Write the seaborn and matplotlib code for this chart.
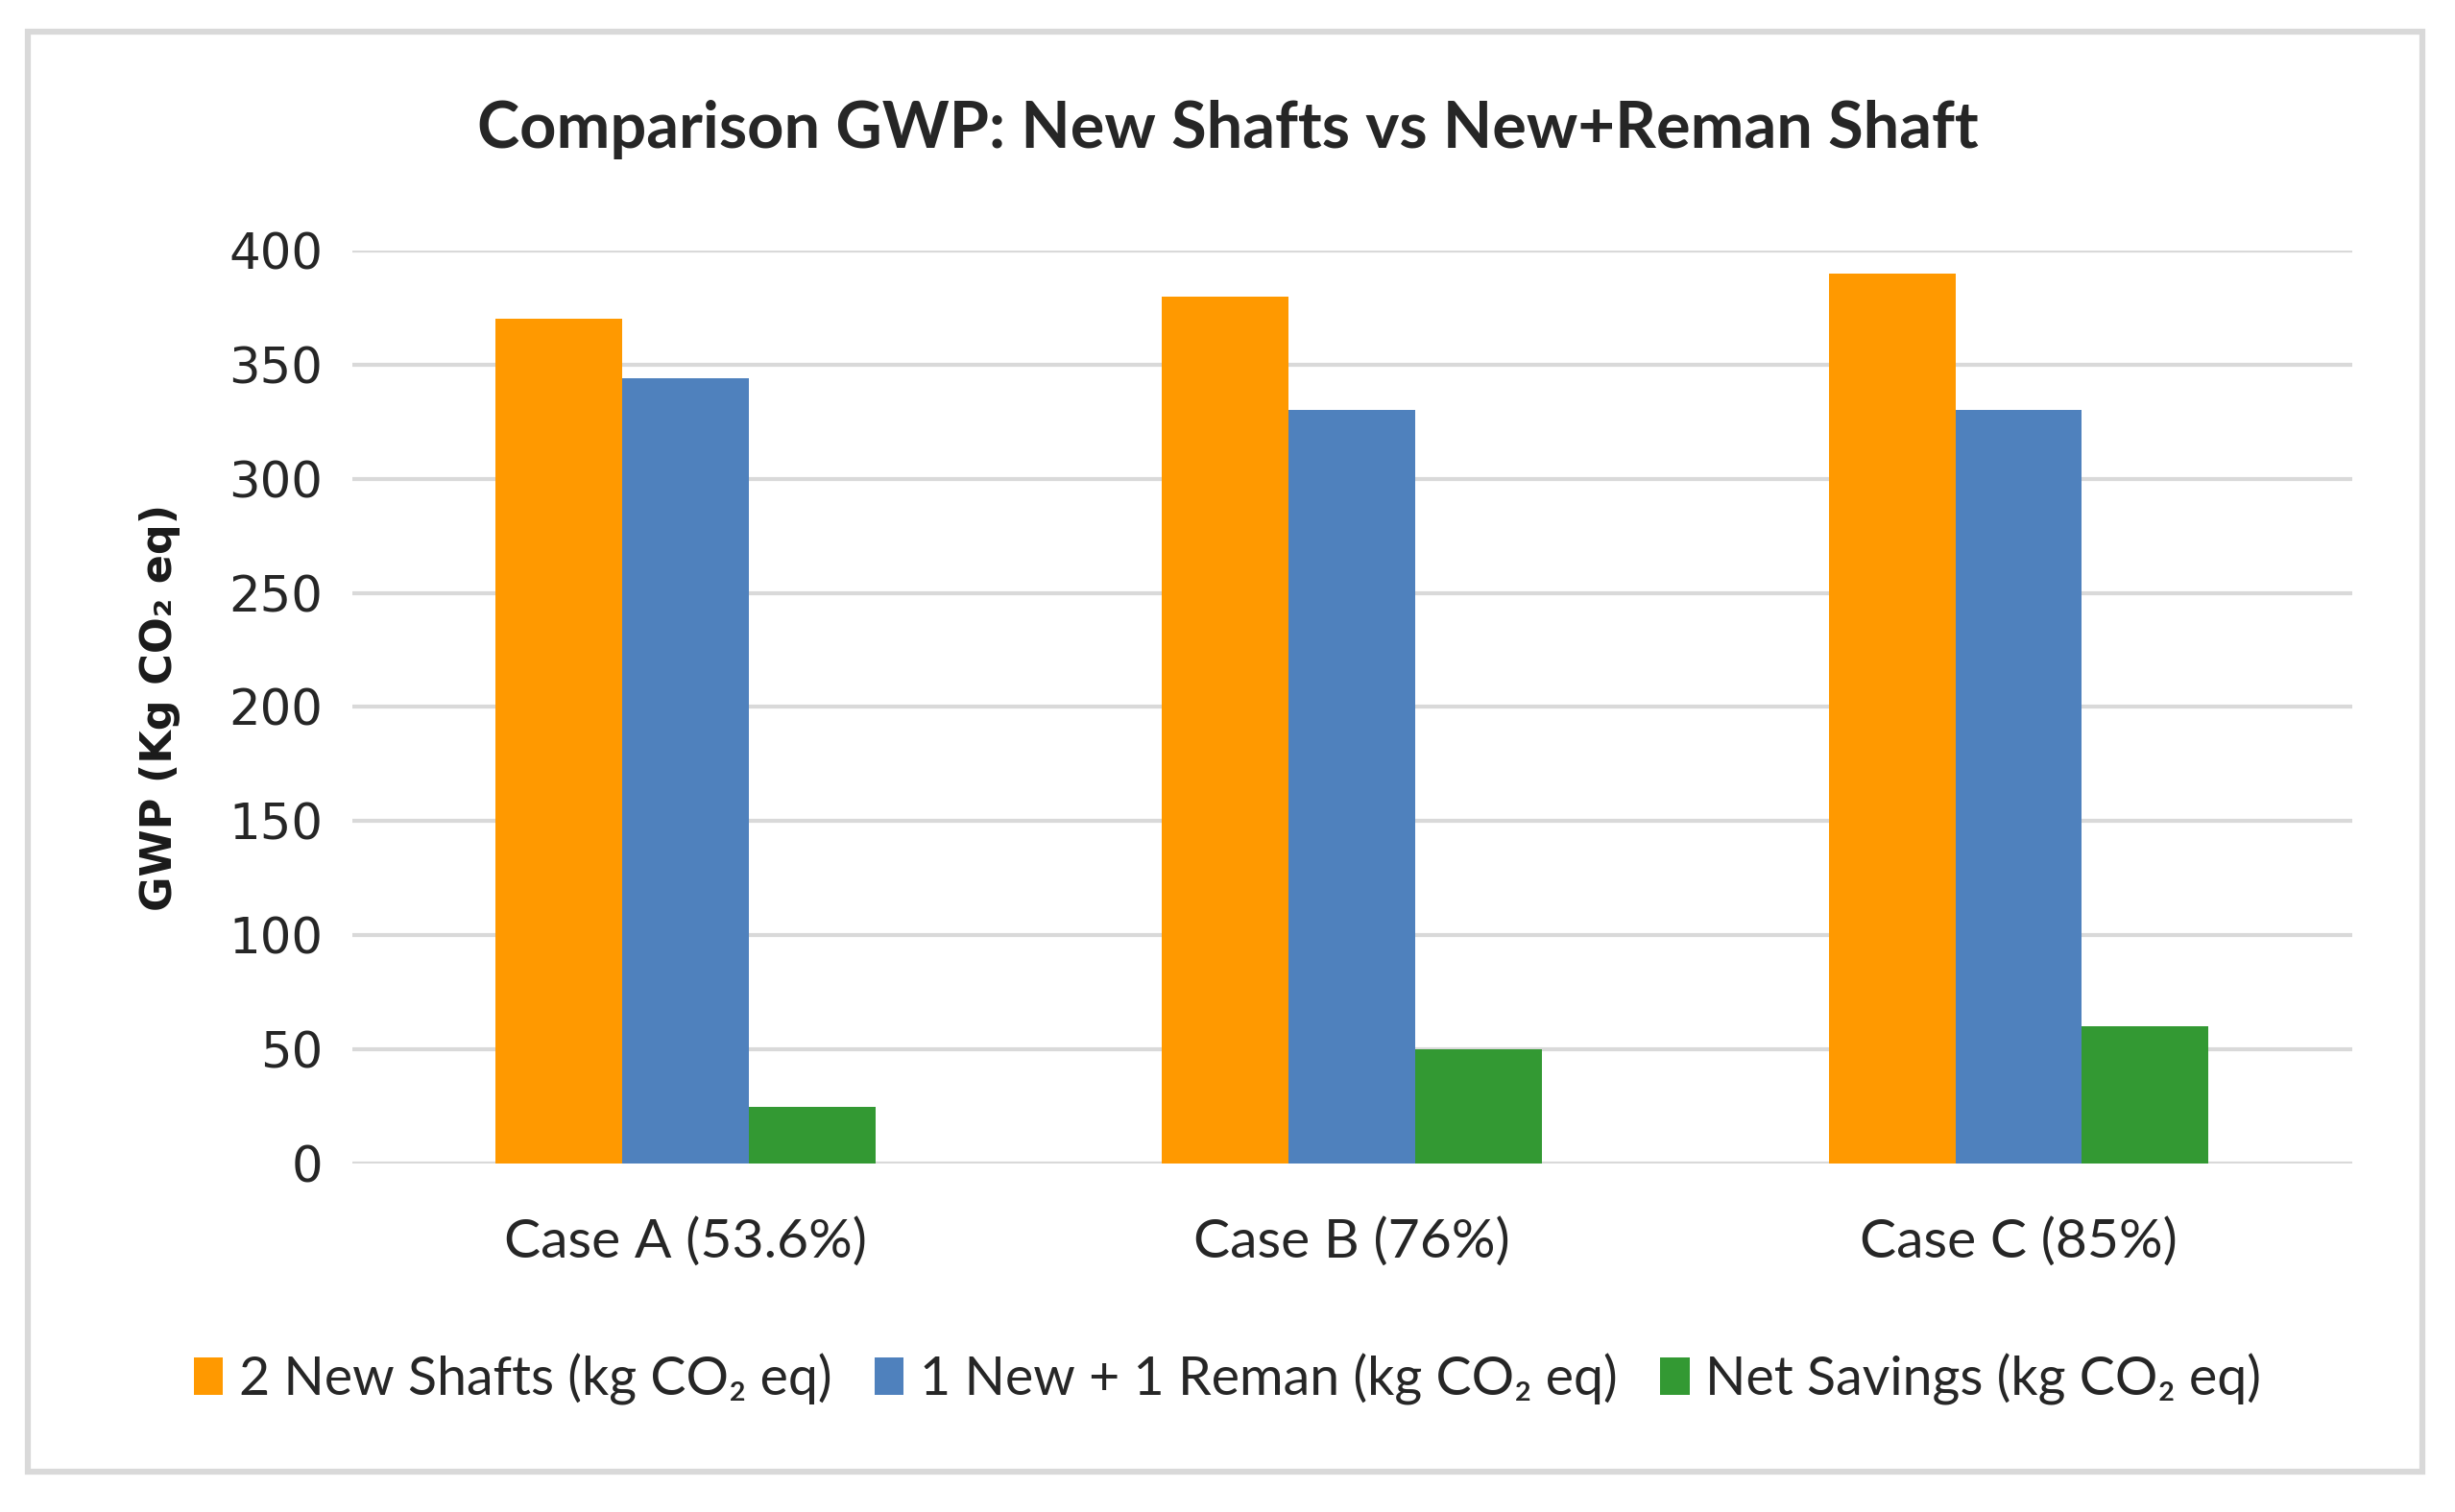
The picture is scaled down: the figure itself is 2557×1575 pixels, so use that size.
import numpy as np
import pandas as pd
import seaborn as sns
import matplotlib.pyplot as plt
from matplotlib.patches import Rectangle

# data
cases = ["Case A (53.6%)", "Case B (76%)", "Case C (85%)"]
series = ["2 New Shafts (kg CO\u2082 eq)", "1 New + 1 Reman (kg CO\u2082 eq)", "Net Savings (kg CO\u2082 eq)"]
new_shafts = [370, 380, 390]
new_reman = [344, 330, 330]
net_savings = [25, 50, 60]
colors = ["#FF9900", "#4F81BD", "#339933"]

df = pd.DataFrame({
    "case": cases * 3,
    "series": np.repeat(series, 3),
    "gwp": new_shafts + new_reman + net_savings,
})

sns.set_style("white")
plt.rcParams['font.family'] = ['Lato', 'DejaVu Sans']

fig = plt.figure(figsize=(25.57, 15.75), dpi=100)
ax = fig.add_axes([0.1435, 0.2305, 0.8145, 0.6038])

sns.barplot(data=df, x="case", y="gwp", hue="series", palette=colors,
            width=0.57, gap=0, saturation=1, linewidth=0, ax=ax, zorder=3)

ax.set_ylim(0, 400)
ax.set_xlim(-0.5, 2.5)
ax.set_yticks(range(0, 401, 50))
ax.yaxis.grid(True, color="#D9D9D9", linewidth=3, zorder=0)
ax.set_axisbelow(True)
for s in ax.spines.values():
    s.set_visible(False)
ax.tick_params(axis="both", length=0)
ax.tick_params(axis="y", pad=22)
ax.tick_params(axis="x", pad=40)
for t in ax.get_yticklabels():
    t.set_fontfamily(['DejaVu Sans'])
    t.set_fontsize(37)
    t.set_color("#262626")
for t in ax.get_xticklabels():
    t.set_fontsize(41)
    t.set_color("#262626")

ax.set_xlabel("")
ax.set_ylabel("GWP (Kg CO\u2082 eq)", fontsize=32, fontweight="bold",
              family=['DejaVu Sans'], color="#1a1a1a", labelpad=36)

fig.text(0.5, 0.914, "Comparison GWP: New Shafts vs New+Reman Shaft",
         ha="center", va="center", fontsize=48, fontweight="bold")

ax.legend(loc="center", bbox_to_anchor=(0.5, 0.088), bbox_transform=fig.transFigure,
          ncol=3, frameon=False, fontsize=40, handlelength=0.55, handleheight=0.7,
          handletextpad=0.3, columnspacing=0.8)

fig.patches.append(Rectangle((0.0113, 0.0267), 0.9754, 0.9524, transform=fig.transFigure,
                             fill=False, edgecolor="#D9D9D9", linewidth=4.5))

fig.savefig("out.png", dpi=100, facecolor="white")
